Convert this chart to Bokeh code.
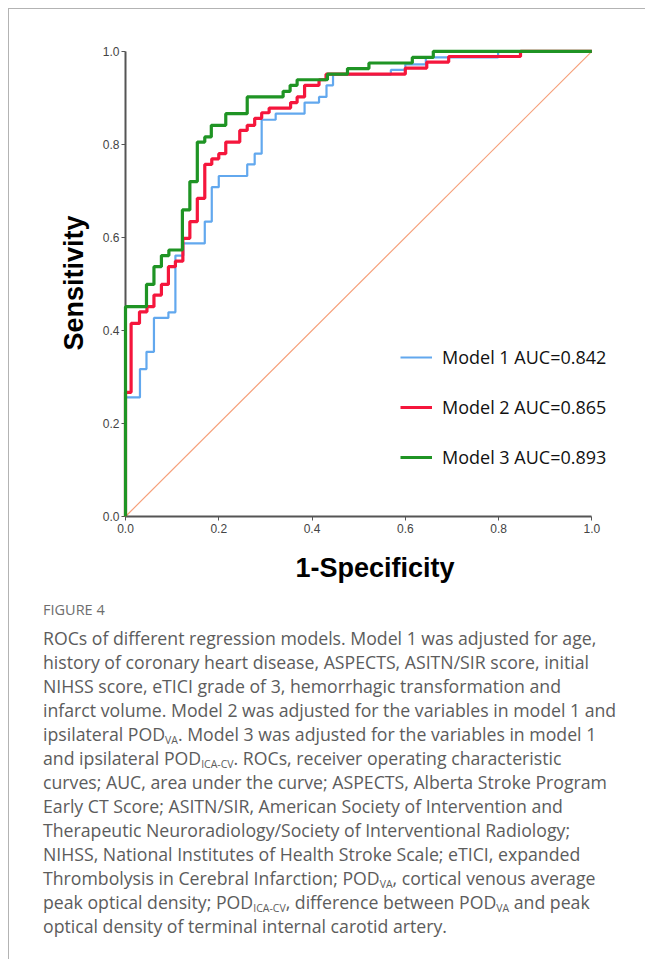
from bokeh.plotting import figure
from bokeh.models import Range1d, FixedTicker, PrintfTickFormatter, Legend, LegendItem, Div
from bokeh.layouts import column
from bokeh.embed import file_html
from bokeh.resources import INLINE

# ROC corner points: (1-specificity, sensitivity), step "after"
m1_fpr = [0.0, 0.0, 0.031, 0.045, 0.061, 0.092, 0.107, 0.124, 0.170, 0.185, 0.200, 0.261,
          0.277, 0.292, 0.322, 0.384, 0.415, 0.431, 0.445, 0.569, 0.600, 0.644, 0.799, 1.0]
m1_tpr = [0.0, 0.256, 0.317, 0.354, 0.427, 0.439, 0.561, 0.587, 0.634, 0.708, 0.732, 0.757,
          0.780, 0.853, 0.866, 0.890, 0.902, 0.927, 0.950, 0.960, 0.972, 0.987, 1.0, 1.0]

m2_fpr = [0.0, 0.0, 0.012, 0.030, 0.046, 0.061, 0.077, 0.092, 0.107, 0.123, 0.138, 0.154,
          0.170, 0.185, 0.200, 0.215, 0.245, 0.261, 0.277, 0.292, 0.308, 0.354, 0.368, 0.384,
          0.415, 0.430, 0.600, 0.646, 0.693, 0.847, 1.0]
m2_tpr = [0.0, 0.267, 0.415, 0.440, 0.451, 0.476, 0.499, 0.537, 0.549, 0.598, 0.634, 0.684,
          0.757, 0.769, 0.780, 0.805, 0.830, 0.841, 0.856, 0.868, 0.878, 0.890, 0.902, 0.927,
          0.939, 0.951, 0.964, 0.977, 0.989, 1.0, 1.0]

m3_fpr = [0.0, 0.0, 0.045, 0.061, 0.077, 0.093, 0.122, 0.138, 0.154, 0.170, 0.184, 0.215,
          0.261, 0.338, 0.353, 0.368, 0.433, 0.476, 0.522, 0.615, 0.660, 1.0]
m3_tpr = [0.0, 0.451, 0.499, 0.537, 0.561, 0.573, 0.659, 0.720, 0.805, 0.816, 0.841, 0.866,
          0.902, 0.914, 0.927, 0.939, 0.951, 0.963, 0.975, 0.987, 1.0, 1.0]

ref_x = [0.0, 1.0]
ref_y = [0.0, 1.0]

legend_labels = ["Model 1 AUC=0.842", "Model 2 AUC=0.865", "Model 3 AUC=0.893"]
tick_values = [0.0, 0.2, 0.4, 0.6, 0.8, 1.0]

colors = ["#62a8ee", "#f5163c", "#1f9424"]

p = figure(width=636, height=580, x_range=Range1d(0, 1.07), y_range=Range1d(0, 1.004),
           output_backend="svg", toolbar_location=None, margin=0,
           min_border_left=116, min_border_right=21, min_border_top=40, min_border_bottom=73)
p.grid.visible = False
p.outline_line_color = None
p.background_fill_color = "white"
p.border_fill_color = "white"

for ax in (p.xaxis[0], p.yaxis[0]):
    ax.ticker = FixedTicker(ticks=tick_values)
    ax.formatter = PrintfTickFormatter(format="%.1f")
    ax.axis_line_color = "#555555"
    ax.axis_line_width = 2
    ax.major_tick_line_color = "#555555"
    ax.major_tick_out = 4
    ax.major_tick_in = 0
    ax.minor_tick_line_color = None
    ax.major_label_text_font = "Liberation Sans"
    ax.major_label_text_font_size = "12px"
    ax.major_label_text_color = "#444444"
    ax.axis_label_text_font = "Liberation Sans"
    ax.axis_label_text_font_style = "bold"
    ax.axis_label_text_font_size = "27px"
    ax.axis_label_text_color = "#000000"
    ax.bounds = (0, 1)

p.xaxis.axis_label = "1-Specificity"
p.yaxis.axis_label = "Sensitivity"
p.xaxis.major_label_standoff = 3
p.yaxis.major_label_standoff = 2
p.xaxis.axis_label_standoff = 17
p.yaxis.axis_label_standoff = 11

p.line(ref_x, ref_y, line_color="#f6a07a", line_width=1.2)
r1 = p.step(m1_fpr, m1_tpr, mode="after", line_color=colors[0], line_width=2.2, level="overlay")
r2 = p.step(m2_fpr, m2_tpr, mode="after", line_color=colors[1], line_width=3.2, level="overlay")
r3 = p.step(m3_fpr, m3_tpr, mode="after", line_color=colors[2], line_width=3.2, level="overlay")

legend = Legend(items=[LegendItem(label=legend_labels[0], renderers=[r1]),
                       LegendItem(label=legend_labels[1], renderers=[r2]),
                       LegendItem(label=legend_labels[2], renderers=[r3])],
                location=(275, 47), orientation="vertical",
                label_text_font="Open Sans", label_text_font_size="18px",
                label_text_color="#111111", glyph_width=32, glyph_height=20,
                label_height=20, label_standoff=10, spacing=26, padding=0, margin=0,
                border_line_alpha=0, background_fill_alpha=0)
p.add_layout(legend)

caption_lines = [
    "ROCs of different regression models. Model 1 was adjusted for age,",
    "history of coronary heart disease, ASPECTS, ASITN/SIR score, initial",
    "NIHSS score, eTICI grade of 3, hemorrhagic transformation and",
    "infarct volume. Model 2 was adjusted for the variables in model 1 and",
    "ipsilateral POD<sub>VA</sub>. Model 3 was adjusted for the variables in model 1",
    "and ipsilateral POD<sub>ICA-CV</sub>. ROCs, receiver operating characteristic",
    "curves; AUC, area under the curve; ASPECTS, Alberta Stroke Program",
    "Early CT Score; ASITN/SIR, American Society of Intervention and",
    "Therapeutic Neuroradiology/Society of Interventional Radiology;",
    "NIHSS, National Institutes of Health Stroke Scale; eTICI, expanded",
    "Thrombolysis in Cerebral Infarction; POD<sub>VA</sub>, cortical venous average",
    "peak optical density; POD<sub>ICA-CV</sub>, difference between POD<sub>VA</sub> and peak",
    "optical density of terminal internal carotid artery.",
]

html = (
    '<div style="padding-left:34px; font-family:\'Open Sans\'; color:#5c5c5c; white-space:nowrap;">'
    '<div style="margin-top:11px; font-size:14.5px; line-height:20px; color:#6e6e6e;">FIGURE 4</div>'
    '<div style="margin-top:6px; font-size:17.7px; line-height:24px;">'
    + "<br>".join(l.replace("<sub>", '<sub style="font-size:10.5px; vertical-align:-3px; line-height:0;">')
                  for l in caption_lines)
    + '</div></div>'
)
cap = Div(text=html, width=636, height=370, margin=0)

layout = column(p, cap, margin=(8, 0, 0, 8),
                styles={"border-top": "1px solid #b3b3b3", "border-left": "1px solid #b3b3b3"})

open("out.html", "w").write(file_html(layout, INLINE))
